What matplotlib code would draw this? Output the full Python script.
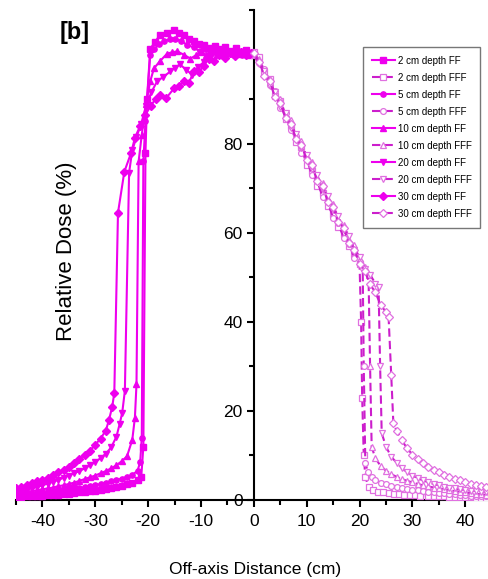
import matplotlib
matplotlib.use("Agg")
import matplotlib.pyplot as plt
from matplotlib.ticker import MultipleLocator, FixedLocator

plt.rcParams['font.family'] = ['Liberation Sans Narrow', 'Liberation Sans', 'DejaVu Sans']
plt.rcParams['axes.unicode_minus'] = False

depths = [2, 5, 10, 20, 30]
markers = ['s', 'o', '^', 'v', 'D']

# flattening-filter (FF) profiles, left half
ff_x = {
    2: [-45, -44, -43, -42, -41, -40, -39, -38, -37, -36, -35, -34, -33, -32, -31, -30,
        -29, -28, -27, -26, -25, -24, -23, -22, -21.3, -20.9, -20.5, -20.2, -19.6, -18.7,
        -17.7, -16.4, -15.1, -14.1, -13.2, -12.2, -11.3, -10.3, -9.4, -8.4, -7.4, -6.4,
        -5.4, -4.4, -3.4, -2.4, -1.4, -0.4],
    5: [-45, -44, -43, -42, -41, -40, -39, -38, -37, -36, -35, -34, -33, -32, -31, -30,
        -29, -28, -27, -26, -25, -24, -23, -22, -21.5, -21.2, -20.9, -20.5, -19.6, -18.8,
        -17.9, -17, -15.9, -14.9, -13.8, -12.6, -11.4, -10.2, -9.2, -8.2, -7.2, -6.2,
        -5.2, -4.2, -3.2, -2.2, -1.2, -0.2],
    10: [-45, -44, -43, -42, -41, -40, -39, -38, -37, -36, -35, -34, -33, -32, -31, -30,
         -29, -28, -27, -26, -25, -24, -23, -22.5, -22.2, -21.8, -21.2, -20.4, -19.6,
         -18.9, -17.7, -16.4, -15.5, -14.5, -13.3, -12, -11, -10, -9, -8, -7, -6, -5,
         -4, -3, -2, -1, -0.3],
    20: [-45, -44, -43, -42, -41, -40, -39, -38, -37, -36, -35, -34, -33, -32, -31, -30,
         -29, -28, -27, -26, -25.4, -24.9, -24.4, -23.6, -23.0, -22.2, -21.3, -20.4,
         -19.4, -18.3, -17.1, -15.8, -14.9, -14, -12.8, -11.7, -10.5, -9.4, -8.3, -7.2,
         -6.1, -5, -3.9, -2.8, -1.7, -0.6],
    30: [-45, -44, -43, -42, -41, -40, -39, -38, -37, -36, -35, -34, -33, -32, -31, -30,
         -29, -28, -27.4, -26.8, -26.4, -25.7, -24.5, -23.2, -22.5, -21.5, -20.5, -19.5,
         -18.6, -17.7, -16.6, -15.1, -14.1, -13.2, -12.3, -11.3, -10.4, -9.5, -8.5, -7.5,
         -6.5, -5.5, -4.5, -3.5, -2.5, -1.5, -0.5],
}
ff_y = {
    2: [0.7, 0.75, 0.8, 0.85, 0.9, 1.0, 1.05, 1.1, 1.2, 1.3, 1.4, 1.5, 1.7, 1.8, 2.0, 2.1,
        2.3, 2.5, 2.7, 2.9, 3.2, 3.5, 3.9, 4.4, 5.2, 12, 78, 90, 101.3, 102.8,
        104.5, 104.9, 105.6, 104.8, 104.5, 103.6, 103.0, 102.4, 102.2, 101.5, 102.0, 101.2,
        101.6, 100.8, 101.4, 100.6, 101.0, 100.2],
    5: [1.1, 1.2, 1.3, 1.4, 1.5, 1.6, 1.75, 1.9, 2.0, 2.2, 2.3, 2.5, 2.7, 2.9, 3.1, 3.3,
        3.6, 3.9, 4.2, 4.5, 4.8, 5.2, 5.6, 6.6, 8.5, 14, 76, 85, 100.0, 101.2,
        102.4, 103.0, 103.4, 103.6, 103.0, 102.2, 101.6, 100.7, 101.2, 100.4, 101.0, 100.3,
        100.9, 100.1, 100.7, 100.0, 100.5, 100.0],
    10: [1.6, 1.7, 1.85, 2.0, 2.2, 2.4, 2.6, 2.8, 3.1, 3.3, 3.6, 3.9, 4.3, 4.7, 5.1, 5.5,
         6.0, 6.5, 7.1, 7.8, 8.7, 9.8, 13.5, 18.5, 26, 76, 82, 89, 94,
         96.9, 98.6, 100.2, 100.5, 100.7, 100.0, 99.1, 99.8, 100.6, 99.9, 100.8, 100.2, 101.0, 100.3,
         100.9, 100.1, 100.7, 100.0, 100.4],
    20: [1.8, 2.0, 2.3, 2.6, 2.9, 3.3, 3.7, 4.1, 4.5, 5.0, 5.5, 6.0, 6.5, 7.1, 7.8, 8.5,
         9.4, 10.4, 11.8, 14.2, 17.0, 19.6, 24.5, 73.5, 78.5, 81.5, 84.5, 88.5,
         91.5, 94.0, 95.0, 96.2, 97.0, 97.8, 96.6, 95.5, 97.2, 98.4, 99.3, 100.2,
         99.6, 100.5, 99.8, 100.6, 100.0, 100.4],
    30: [2.7, 3.0, 3.4, 3.8, 4.2, 4.6, 5.0, 5.6, 6.2, 6.8, 7.5, 8.3, 9.2, 10.1, 11.1, 12.4,
         13.8, 15.6, 18.0, 20.9, 24.0, 64.5, 73.7, 78.0, 81.3, 84.0, 86.5, 88.5,
         90.0, 91.0, 90.2, 92.4, 93.0, 94.0, 93.7, 96.2, 96.0, 97.5, 99.1, 98.6,
         99.8, 99.2, 100.3, 99.6, 100.5, 99.8, 100.3],
}

# flattening-filter-free (FFF) profiles, right half
fff_x = {
    2: [0, 1, 2, 3, 4, 5, 6, 7, 8, 9, 10, 11, 12, 13, 14, 15, 16, 17, 18, 19, 20,
        20.3, 20.5, 20.8, 21.1, 21.7, 22.5, 23.5, 24.5, 25.5, 26.5, 27.5, 28.5, 29.5,
        30.5, 31.5, 33, 34, 35, 36, 37, 38, 39, 40, 41, 42, 43, 44, 45],
    5: [0, 1, 2, 3, 4, 5, 6, 7, 8, 9, 10, 11, 12, 13, 14, 15, 16, 17, 18, 19, 20,
        20.6, 20.8, 21.1, 21.6, 22.3, 23, 24, 25, 26, 27, 28, 29, 30, 31, 32, 33, 34,
        35, 36, 37, 38, 39, 40, 41, 42, 43, 44, 45],
    10: [0, 1, 2, 3, 4, 5, 6, 7, 8, 9, 10, 11, 12, 13, 14, 15, 16, 17, 18, 19, 20, 21,
         21.7, 22.0, 22.3, 23, 24, 25, 26, 27, 28, 29, 30, 31, 32, 33, 34, 35, 36, 37,
         38, 39, 40, 41, 42, 43, 44, 45],
    20: [0, 1, 2, 3, 4, 5, 6, 7, 8, 9, 10, 11, 12, 13, 14, 15, 16, 17, 18, 19, 20, 21,
         22, 23, 23.6, 23.9, 24.2, 25, 26, 27, 28, 29, 30, 31, 32, 33, 34, 35, 36, 37,
         38, 39, 40, 41, 42, 43, 44, 45],
    30: [0, 1, 2, 3, 4, 5, 6, 7, 8, 9, 10, 11, 12, 13, 14, 15, 16, 17, 18, 19, 20, 21,
         22, 23, 24, 25, 25.5, 26.0, 26.4, 27, 28, 29, 30, 31, 32, 33, 34, 35, 36, 37,
         38, 39, 40, 41, 42, 43, 44, 45],
}
fff_y = {
    2: [100.5, 99.5, 96.0, 94.5, 90.8, 89.5, 85.6, 84.0, 80.4, 79.2, 75.3, 73.8, 70.6,
        69.0, 66.0, 64.3, 61.2, 59.8, 57.0, 55.2, 53.0,
        40, 23, 10, 5.2, 2.9, 2.3, 1.9, 1.7, 1.5, 1.4, 1.3, 1.2, 1.15,
        1.1, 1.0, 0.95, 0.9, 0.85, 0.8, 0.75, 0.7, 0.65, 0.6, 0.6, 0.55, 0.5, 0.5, 0.45],
    5: [100.2, 98.2, 96.8, 93.2, 91.9, 88.1, 86.8, 83.0, 81.7, 78.0, 76.6, 72.9, 71.6,
        68.1, 66.8, 63.4, 62.1, 58.8, 57.5, 54.4, 53.4,
        52.0, 30, 8.3, 6.2, 5.1, 4.5, 3.9, 3.5, 3.2, 2.9, 2.7, 2.5, 2.3, 2.15, 2.0, 1.85, 1.7,
        1.6, 1.5, 1.4, 1.3, 1.2, 1.1, 1.0, 0.95, 0.85, 0.8, 0.75],
    10: [100.0, 99.0, 95.6, 94.6, 91.0, 90.0, 86.4, 85.2, 81.6, 80.5, 77.0, 75.8, 72.2,
         71.1, 67.6, 66.4, 62.9, 61.8, 58.4, 57.2, 54.0, 52.3,
         50.6, 30, 11.9, 9.4, 7.6, 6.6, 5.8, 5.2, 4.7, 4.3, 3.95, 3.6, 3.3, 3.05, 2.8, 2.6,
         2.4, 2.2, 2.0, 1.85, 1.7, 1.55, 1.4, 1.25, 1.1, 1.0],
    20: [99.8, 97.8, 96.4, 93.0, 91.6, 88.3, 86.9, 83.6, 82.2, 79.0, 77.5, 74.3, 72.9,
         69.7, 68.3, 65.2, 63.7, 60.6, 59.2, 56.2, 54.6, 51.8,
         50.6, 48.6, 47.9, 30, 15.0, 12.0, 9.7, 8.4, 7.2, 6.2, 5.5, 4.9, 4.4, 4.0, 3.6, 3.3,
         3.0, 2.8, 2.6, 2.4, 2.25, 2.1, 2.0, 1.9, 1.8, 1.7],
    30: [100.3, 98.4, 95.2, 94.0, 90.4, 89.2, 85.7, 84.5, 81.0, 79.8, 76.3, 75.1, 71.6,
         70.4, 67.0, 65.7, 62.3, 61.0, 57.6, 56.2, 53.0, 51.4,
         48.4, 46.6, 43.8, 42.2, 41.1, 28, 17.3, 15.6, 13.4, 11.6, 10.2, 9.1, 8.2, 7.4, 6.8,
         6.2, 5.6, 5.1, 4.7, 4.4, 4.0, 3.7, 3.4, 3.1, 2.9, 2.7],
}

ff_color = '#ee00ee'
fff_color = '#cc1ecc'

fig = plt.figure(figsize=(4.89, 5.79), dpi=100)
ax = fig.add_axes([16 / 489, 79 / 579, 473 / 489, 490 / 579])

for d, m in zip(depths, markers):
    ax.plot(ff_x[d], ff_y[d], color=ff_color, lw=1.5, marker=m, ms=3.8,
            mfc=ff_color, mec=ff_color, label=f'{d} cm depth FF')
    ax.plot(fff_x[d], fff_y[d], color=fff_color, lw=1.5, ls=(0, (4, 2)), marker=m,
            ms=4.2, mfc='white', mec='#e070e0', mew=0.9, label=f'{d} cm depth FFF')

ax.set_xlim(-45, 44.5)
ax.set_ylim(0, 110)

for side in ['top', 'right']:
    ax.spines[side].set_visible(False)
ax.spines['left'].set_position(('data', 0))
ax.spines['bottom'].set_position(('data', 0))
for side in ['left', 'bottom']:
    ax.spines[side].set_linewidth(1.5)
    ax.spines[side].set_zorder(1)

ax.xaxis.set_major_locator(FixedLocator([-40, -30, -20, -10, 0, 10, 20, 30, 40]))
ax.xaxis.set_minor_locator(FixedLocator([-45, -35, -25, -15, -5, 5, 15, 25, 35]))
ax.yaxis.set_minor_locator(MultipleLocator(10))
ax.set_yticks([0, 20, 40, 60, 80, 100], ['0', '20', '40', '60', '80', ''])
ax.tick_params(which='major', direction='out', length=5, width=1.5, labelsize=12.5, pad=3)
ax.tick_params(which='minor', direction='out', length=3.5, width=1.5)
ax.tick_params(axis='x', pad=5)

ax.set_xlabel('Off-axis Distance (cm)', fontsize=12.5, family=['Liberation Sans', 'DejaVu Sans'])
ax.xaxis.set_label_coords(0.505, -0.127)
ax.set_ylabel('Relative Dose (%)', fontsize=16, family=['Liberation Sans', 'DejaVu Sans'])
ax.yaxis.set_label_coords(0.13, 0.508)

ax.text(0.125, 0.955, '[b]', transform=ax.transAxes, fontsize=17, fontweight='bold',
        ha='center', va='center', family=['Liberation Sans', 'DejaVu Sans'])

leg = ax.legend(loc='upper left', bbox_to_anchor=(347 / 473, 1 - 37 / 490),
                fontsize=7, handlelength=2.4, handletextpad=0.25, labelspacing=0.72,
                numpoints=1, fancybox=False, borderpad=0.9, borderaxespad=0)
leg.get_frame().set_edgecolor('#555555')
leg.get_frame().set_linewidth(1.0)

fig.savefig('out.png', dpi=100)
